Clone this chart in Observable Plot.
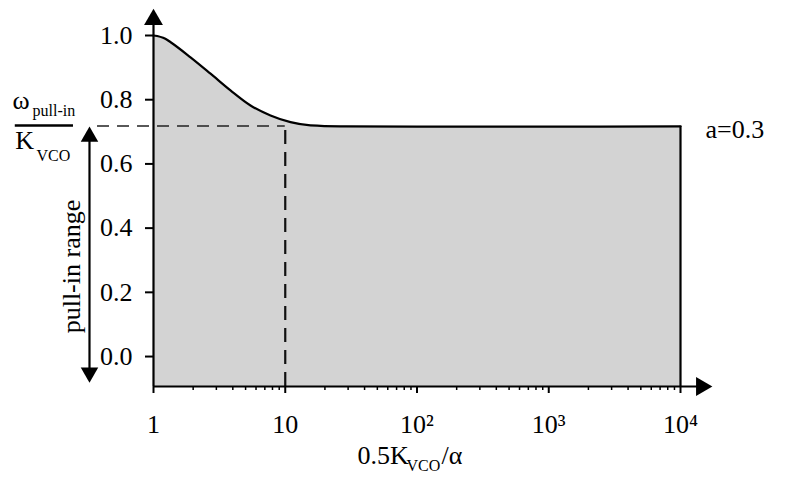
<!DOCTYPE html>
<html>
<head>
<meta charset="utf-8">
<script src="https://cdn.jsdelivr.net/npm/d3@7"></script>
<script src="https://cdn.jsdelivr.net/npm/@observablehq/plot@0.6"></script>
<style>
  html, body { margin: 0; padding: 0; background: #fff; }
</style>
</head>
<body>
<div id="chart"></div>
<script>
// Curve: normalized pull-in range vs 0.5*Kvco/alpha (a = 0.3)
const ratio = [1, 1.23, 1.35, 1.91, 2.71, 3.84, 5.45, 7.73, 10.96, 15.55, 26.2, 100, 1000, 10000];
const pullIn = [1.0, 0.99, 0.979, 0.932, 0.881, 0.829, 0.782, 0.751, 0.730, 0.720, 0.717, 0.716, 0.716, 0.717];

// Ticks
const xMajorTicks = [1, 10, 100, 1000, 10000];
const xTickLabels = ["1", "10", "10\u00B2", "10\u00B3", "10\u2074"];
const xMinorTicks = [2,3,4,5,6,7,8,9,20,30,40,50,60,70,80,90,200,300,400,500,600,700,800,900,2000,3000,4000,5000,6000,7000,8000,9000];
const yTicks = [0, 0.2, 0.4, 0.6, 0.8, 1.0];
const yTickLabels = ["0.0", "0.2", "0.4", "0.6", "0.8", "1.0"];

// Marked level
const pullInLevel = 0.718;
const markedRatio = 10;
const parameterLabel = "a=0.3";

const data = ratio.map((r, i) => ({r, p: pullIn[i]}));
const yBottom = -0.0933;
const xMin = 1, xMax = 10000;

const serif = "Liberation Serif";

const chart = Plot.plot({
  width: 789,
  height: 481,
  marginLeft: 153,
  marginRight: 109,
  marginTop: 35,
  marginBottom: 95,
  style: {fontFamily: serif, background: "white", color: "black", overflow: "visible"},
  x: {type: "log", domain: [xMin, xMax]},
  y: {domain: [yBottom, 1.0]},
  marks: [
    // shaded region
    Plot.areaY(data, {x: "r", y1: yBottom, y2: "p", fill: "#d3d3d3", curve: "monotone-x"}),
    // dashed guides
    Plot.ruleY([pullInLevel], {x1: 0.376, x2: markedRatio, stroke: "#222", strokeWidth: 1.5, strokeDasharray: "12,8"}),
    Plot.ruleX([markedRatio], {y1: yBottom, y2: pullInLevel, stroke: "#111", strokeWidth: 2.2, strokeDasharray: "14,8"}),
    // curve
    Plot.line(data, {x: "r", y: "p", stroke: "black", strokeWidth: 2.2, curve: "monotone-x"}),
    Plot.ruleX([xMax], {y1: yBottom, y2: pullIn[pullIn.length - 1], stroke: "black", strokeWidth: 2.2}),
    // axes lines with arrow heads
    Plot.ruleX([xMin], {y1: yBottom, y2: 1.05, stroke: "black", strokeWidth: 2.2}),
    Plot.ruleY([yBottom], {x1: xMin, x2: 14430, stroke: "black", strokeWidth: 2.2}),
    Plot.dot([{x: xMin, y: 1.0497}], {x: "x", y: "y", symbol: "triangle", r: 7, fill: "black", stroke: null}),
    Plot.dot([{x: 14430, y: yBottom}], {x: "x", y: "y", symbol: "triangle", r: 7, rotate: 90, fill: "black", stroke: null}),
    // axes ticks & labels
    Plot.axisY(yTicks, {tickSize: 8, tickPadding: 13, fontSize: 26, strokeWidth: 2,
      tickFormat: d => yTickLabels[yTicks.indexOf(d)], label: null}),
    Plot.axisX(xMajorTicks, {tickSize: 7, tickPadding: 21, fontSize: 26, strokeWidth: 2,
      tickFormat: d => xTickLabels[xMajorTicks.indexOf(d)], label: null}),
    Plot.axisX(xMinorTicks, {tickSize: 4, strokeWidth: 1.5, tickFormat: () => "", label: null}),
    // pull-in range double arrow
    Plot.ruleX([0.3267], {y1: -0.0498, y2: 0.685, stroke: "black", strokeWidth: 2.2}),
    Plot.dot([{x: 0.3267, y: 0.685}], {x: "x", y: "y", symbol: "triangle", r: 6.5, fill: "black", stroke: null}),
    Plot.dot([{x: 0.3267, y: -0.0498}], {x: "x", y: "y", symbol: "triangle", r: 6.5, rotate: 180, fill: "black", stroke: null}),
    Plot.text(["pull-in range"], {x: 0.2385, y: 0.2803, text: d => d, rotate: -90, fontSize: 26, textAnchor: "middle", lineAnchor: "middle"}),
    // y label fraction
    Plot.text(["\u03C9"], {x: 0.0851, y: 0.7725, text: d => d, fontSize: 26, textAnchor: "start", lineAnchor: "bottom"}),
    Plot.text(["pull-in"], {x: 0.1207, y: 0.7507, text: d => d, fontSize: 16, textAnchor: "start", lineAnchor: "bottom"}),
    Plot.ruleY([0.7195], {x1: 0.0893, x2: 0.247, stroke: "black", strokeWidth: 2.5}),
    Plot.text(["K"], {x: 0.0893, y: 0.6479, text: d => d, fontSize: 26, textAnchor: "start", lineAnchor: "bottom"}),
    Plot.text(["VCO"], {x: 0.1294, y: 0.6105, text: d => d, fontSize: 16, textAnchor: "start", lineAnchor: "bottom"}),
    // x label
    Plot.text(["0.5K"], {x: 35.35, y: -0.3333, text: d => d, fontSize: 26, textAnchor: "start", lineAnchor: "bottom"}),
    Plot.text(["VCO"], {x: 83.2, y: -0.355, text: d => d, fontSize: 16, textAnchor: "start", lineAnchor: "bottom"}),
    Plot.text(["/\u03B1"], {x: 153.5, y: -0.3333, text: d => d, fontSize: 26, textAnchor: "start", lineAnchor: "bottom"}),
    // parameter annotation
    Plot.text([parameterLabel], {x: 15490, y: 0.6821, text: d => d, fontSize: 26, textAnchor: "start", lineAnchor: "bottom"})
  ]
});
document.getElementById("chart").appendChild(chart);
</script>
</body>
</html>
